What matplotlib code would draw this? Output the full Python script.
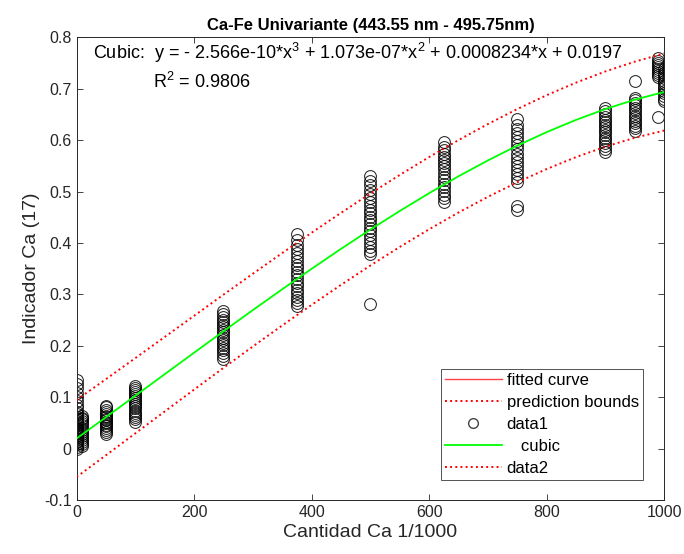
"""
Ca-Fe univariate calibration: indicator vs Ca amount, cubic fit with prediction bounds.
"""

import matplotlib.pyplot as plt
import numpy as np

plt.rcParams["font.family"] = ["Liberation Sans", "DejaVu Sans"]
plt.rcParams["mathtext.default"] = "regular"

# Measured indicator values per Ca level (one list per cluster)
CA_LEVELS = [0, 10, 50, 100, 250, 375, 500, 625, 750, 900, 950, 990, 1000]
Y_0 = [0.000, 0.004, 0.008, 0.012, 0.015, 0.019, 0.022, 0.026, 0.030, 0.033, 0.037, 0.041,
       0.045, 0.049, 0.053, 0.058, 0.062, 0.067, 0.072, 0.078, 0.085, 0.093, 0.100, 0.108,
       0.118, 0.126, 0.133]
Y_10 = [0.005, 0.009, 0.013, 0.017, 0.021, 0.025, 0.029, 0.033, 0.037, 0.041, 0.045, 0.049,
        0.053, 0.057, 0.060, 0.063]
Y_50 = [0.028, 0.032, 0.036, 0.040, 0.043, 0.046, 0.049, 0.052, 0.055, 0.058, 0.061, 0.064,
        0.068, 0.072, 0.076, 0.080, 0.083]
Y_100 = [0.052, 0.057, 0.062, 0.066, 0.070, 0.074, 0.078, 0.082, 0.086, 0.090, 0.094, 0.098,
         0.102, 0.106, 0.110, 0.114, 0.118, 0.122]
Y_250 = [0.174, 0.180, 0.186, 0.191, 0.196, 0.201, 0.206, 0.211, 0.216, 0.221, 0.226, 0.231,
         0.236, 0.241, 0.246, 0.251, 0.256, 0.262, 0.268]
Y_375 = [0.277, 0.283, 0.289, 0.295, 0.302, 0.309, 0.316, 0.323, 0.330, 0.337, 0.344, 0.351,
         0.358, 0.365, 0.372, 0.380, 0.388, 0.396, 0.405, 0.417]
Y_500 = [0.281, 0.378, 0.385, 0.392, 0.400, 0.408, 0.416, 0.423, 0.430, 0.437, 0.444, 0.451,
         0.458, 0.465, 0.472, 0.479, 0.487, 0.495, 0.503, 0.512, 0.521, 0.530]
Y_625 = [0.480, 0.487, 0.494, 0.501, 0.508, 0.515, 0.522, 0.529, 0.536, 0.543, 0.550, 0.556,
         0.562, 0.568, 0.574, 0.580, 0.587, 0.596]
Y_750 = [0.465, 0.472, 0.518, 0.526, 0.534, 0.542, 0.550, 0.558, 0.566, 0.574, 0.582, 0.590,
         0.598, 0.606, 0.614, 0.622, 0.630, 0.641]
Y_900 = [0.577, 0.583, 0.589, 0.595, 0.600, 0.605, 0.610, 0.615, 0.620, 0.625, 0.630, 0.635,
         0.640, 0.645, 0.650, 0.656, 0.662]
Y_950 = [0.618, 0.623, 0.628, 0.633, 0.638, 0.643, 0.648, 0.653, 0.658, 0.663, 0.668, 0.673,
         0.678, 0.682, 0.715]
Y_990 = [0.645, 0.723, 0.727, 0.731, 0.735, 0.739, 0.743, 0.747, 0.751, 0.755, 0.760]
Y_1000 = [0.676, 0.681, 0.686, 0.691, 0.696, 0.701, 0.706, 0.711, 0.716, 0.721, 0.726, 0.731,
          0.738]
CLUSTERS = [Y_0, Y_10, Y_50, Y_100, Y_250, Y_375, Y_500, Y_625, Y_750, Y_900, Y_950, Y_990, Y_1000]

# Cubic fit and prediction bounds, read every 50 units
CURVE_X = [0, 50, 100, 150, 200, 250, 300, 350, 400, 450, 500, 550, 600, 650, 700, 750, 800,
           850, 900, 950, 1000]
CUBIC_Y = [0.0197, 0.0611, 0.1029, 0.1448, 0.1866, 0.2283, 0.2695, 0.3100, 0.3498, 0.3886,
           0.4262, 0.4623, 0.4969, 0.5298, 0.5606, 0.5894, 0.6157, 0.6395, 0.6606, 0.6788,
           0.6938]
UPPER_Y = [0.0947, 0.1352, 0.1761, 0.2172, 0.2584, 0.2995, 0.3402, 0.3805, 0.4200, 0.4586,
           0.4962, 0.5324, 0.5672, 0.6002, 0.6314, 0.6606, 0.6875, 0.7120, 0.7338, 0.7528,
           0.7688]
LOWER_Y = [-0.0553, -0.0129, 0.0297, 0.0723, 0.1148, 0.1570, 0.1987, 0.2396, 0.2796, 0.3185,
           0.3562, 0.3923, 0.4267, 0.4593, 0.4898, 0.5181, 0.5439, 0.5671, 0.5874, 0.6047,
           0.6188]

FIT_TEXT = "Cubic:  y = - 2.566e-10*x$^3$ + 1.073e-07*x$^2$ + 0.0008234*x + 0.0197"
R2_TEXT = "R$^2$ = 0.9806"

TICK_COLOR = "#262626"


def main():
    fig = plt.figure(figsize=(6.84, 5.54), dpi=100)
    ax = fig.add_axes([0.112, 0.0975, 0.859, 0.835])

    for level, ys in zip(CA_LEVELS, CLUSTERS):
        ax.plot(np.full(len(ys), level), ys, linestyle="none", marker="o", markersize=8.5,
                markerfacecolor="none", markeredgecolor="black", markeredgewidth=0.75,
                alpha=0.85, zorder=2)

    ax.plot(CURVE_X, CUBIC_Y, color="#00ff00", linewidth=1.3, zorder=3)
    ax.plot(CURVE_X, UPPER_Y, color="#ff0000", linestyle=":", linewidth=1.4, zorder=3)
    ax.plot(CURVE_X, LOWER_Y, color="#ff0000", linestyle=":", linewidth=1.4, zorder=3)

    ax.set_xlim(0, 1000)
    ax.set_ylim(-0.1, 0.8)
    ax.set_xticks(np.arange(0, 1001, 200))
    ax.set_yticks(np.arange(-0.1, 0.81, 0.1))
    ax.set_yticklabels(["-0.1", "0", "0.1", "0.2", "0.3", "0.4", "0.5", "0.6", "0.7", "0.8"])
    ax.tick_params(direction="in", top=True, right=True, labelsize=11.5, colors=TICK_COLOR,
                   length=4, width=0.6)
    for s in ax.spines.values():
        s.set_color(TICK_COLOR)
        s.set_linewidth(0.7)

    ax.set_xlabel("Cantidad Ca 1/1000", fontsize=14, color=TICK_COLOR, labelpad=3)
    ax.set_ylabel("Indicador Ca (17)", fontsize=14, color=TICK_COLOR, labelpad=3)
    ax.set_title("Ca-Fe Univariante (443.55 nm - 495.75nm)", fontsize=12, fontweight="bold",
                 pad=5)

    ax.text(0.028, 0.966, FIT_TEXT, transform=ax.transAxes, fontsize=13, va="center",
            ha="left")
    ax.text(0.130, 0.903, R2_TEXT, transform=ax.transAxes, fontsize=13, va="center",
            ha="left")

    # legend proxies in the original order
    h_fit, = ax.plot([], [], color="#ff0000", linewidth=1.0, alpha=0.75)
    h_pb, = ax.plot([], [], color="#ff0000", linestyle=":", linewidth=1.4)
    h_d1, = ax.plot([], [], linestyle="none", marker="o", markersize=7,
                    markerfacecolor="none", markeredgecolor="#444444", markeredgewidth=1.0)
    h_cu, = ax.plot([], [], color="#00ff00", linewidth=1.3)
    h_d2, = ax.plot([], [], color="#ff0000", linestyle=":", linewidth=1.4)
    leg = ax.legend([h_fit, h_pb, h_d1, h_cu, h_d2],
                    ["fitted curve", "prediction bounds", "data1", "   cubic", "data2"],
                    loc="lower right", bbox_to_anchor=(0.964, 0.043), fontsize=12,
                    frameon=True, fancybox=False, borderpad=0.25, labelspacing=0.42,
                    handlelength=3.4, handletextpad=0.3, borderaxespad=0)
    leg.get_frame().set_edgecolor(TICK_COLOR)
    leg.get_frame().set_linewidth(0.7)

    fig.savefig("out.png", dpi=100)
    plt.close(fig)


if __name__ == "__main__":
    main()
